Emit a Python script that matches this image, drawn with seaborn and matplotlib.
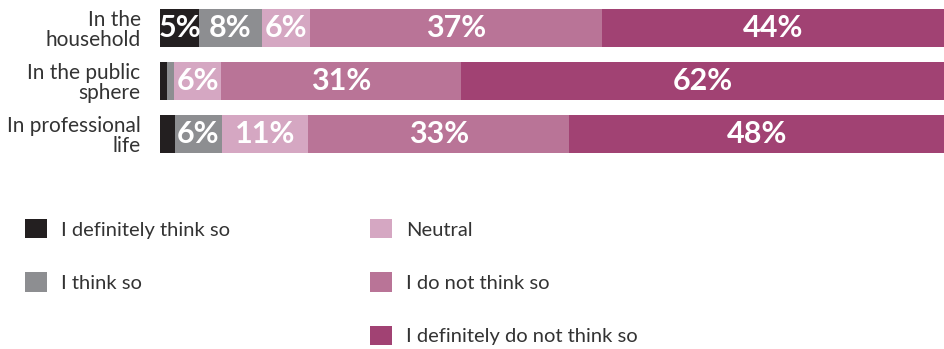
import matplotlib
matplotlib.use("Agg")
import matplotlib.pyplot as plt
import seaborn as sns
import numpy as np
import pandas as pd
from matplotlib.patches import Patch

sns.set_theme(style="white")
plt.rcParams['font.family'] = ['Lato', 'DejaVu Sans']

categories = ["In the\nhousehold", "In the public\nsphere", "In professional\nlife"]
series = ["I definitely think so", "I think so", "Neutral", "I do not think so",
          "I definitely do not think so"]
definitely_yes = [5.0, 0.9, 1.9]
yes = [8.0, 0.9, 6.0]
neutral = [6.1, 6.0, 11.0]
no = [37.3, 30.6, 33.3]
definitely_no = [43.6, 61.6, 47.8]
colors = ["#231f20", "#8d8e91", "#d5a7c2", "#b97497", "#a14273"]

values = np.array([definitely_yes, yes, neutral, no, definitely_no])  # series x category
cum = np.cumsum(values, axis=0)

W, H = 944, 349
fig = plt.figure(figsize=(W / 100, H / 100), dpi=100)
ax = fig.add_axes([160 / W, (H - 153) / H, 784 / W, 144 / H])

# stacked bars: draw cumulative totals from the last series backwards
for k in range(len(series) - 1, -1, -1):
    df = pd.DataFrame({"cat": categories, "val": cum[k]})
    sns.barplot(data=df, x="val", y="cat", orient="h", color=colors[k],
                width=0.72, saturation=1, ax=ax, linewidth=0)

# value labels
for k in range(len(series)):
    for i in range(len(categories)):
        v = values[k, i]
        if v >= 4:
            start = cum[k, i] - v
            ax.text(start + v / 2, i, f"{v:.0f}%", ha="center", va="center",
                    color="white", fontsize=22, fontweight="bold", clip_on=True)

ax.set_xlim(0, 100)
ax.set_ylim(2.36, -0.36)
ax.set_xlabel("")
ax.set_ylabel("")
ax.set_xticks([])
for s in ax.spines.values():
    s.set_visible(False)
ax.tick_params(axis="y", length=0, pad=14, labelsize=15, labelcolor="#333333")
for lab in ax.get_yticklabels():
    lab.set_linespacing(1.0)
    lab.set_horizontalalignment("right")

# legend: first column two items, second column three
handles = [Patch(facecolor=c, edgecolor="none") for c in colors]
blank = Patch(facecolor="none", edgecolor="none")
hl = [handles[0], handles[1], blank, handles[2], handles[3], handles[4]]
ll = [series[0], series[1], "", series[2], series[3], series[4]]
fig.legend(hl, ll, loc="upper left", bbox_to_anchor=(25 / W, 1 - 219 / H),
           ncol=2, frameon=False, fontsize=14.5, handlelength=1.1,
           handleheight=1.1, handletextpad=0.7, labelspacing=1.68,
           columnspacing=6.95, borderpad=0, borderaxespad=0,
           labelcolor="#333333")

fig.savefig("out.png", dpi=100)
